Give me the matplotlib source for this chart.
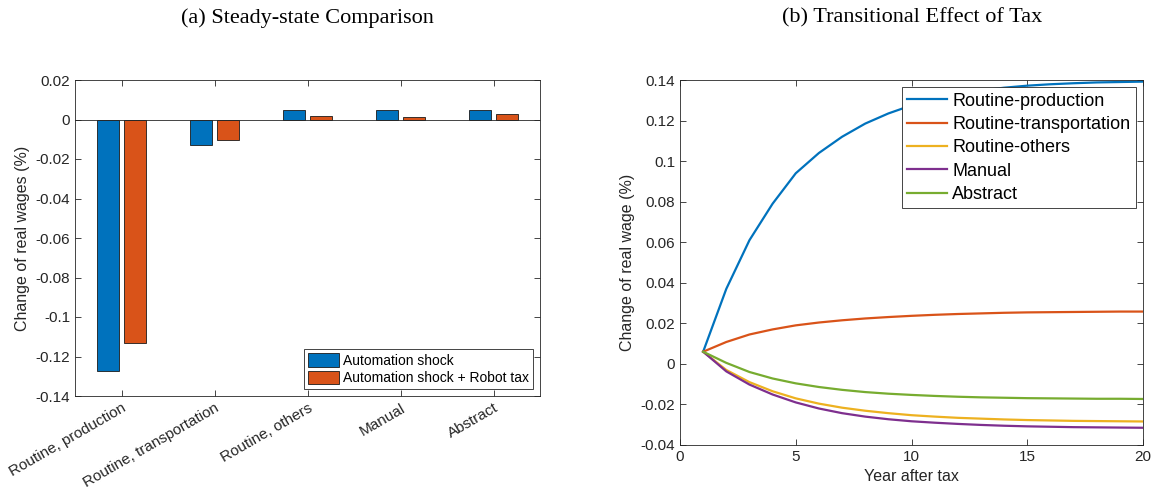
import numpy as np
import matplotlib.pyplot as plt

# steady-state comparison
categories = ['Routine, production', 'Routine, transportation', 'Routine, others', 'Manual', 'Abstract']
shock = [-0.1272, -0.0128, 0.0050, 0.0050, 0.0050]
shock_tax = [-0.1130, -0.0102, 0.0020, 0.0015, 0.0030]

# transitional effect
years = list(range(1, 21))
routine_prod = [0.006, 0.037, 0.061, 0.079, 0.094, 0.104, 0.112, 0.1185, 0.1235, 0.1275,
                0.1305, 0.133, 0.1348, 0.1362, 0.1372, 0.1379, 0.1384, 0.1388, 0.1390, 0.1392]
routine_trans = [0.006, 0.0108, 0.0145, 0.0170, 0.0190, 0.0204, 0.0215, 0.0224, 0.0231, 0.0237,
                 0.0242, 0.0246, 0.0249, 0.0252, 0.0254, 0.0255, 0.0256, 0.0257, 0.0258, 0.0258]
routine_oth = [0.006, -0.0030, -0.0090, -0.0135, -0.0170, -0.0196, -0.0216, -0.0231, -0.0243, -0.0253,
               -0.0260, -0.0266, -0.0270, -0.0274, -0.0277, -0.0279, -0.0281, -0.0282, -0.0283, -0.0284]
manual = [0.006, -0.0037, -0.0102, -0.0151, -0.0190, -0.0220, -0.0243, -0.0260, -0.0273, -0.0283,
          -0.0290, -0.0296, -0.0301, -0.0305, -0.0308, -0.0310, -0.0312, -0.0313, -0.0314, -0.0315]
abstract = [0.006, 0.0005, -0.0040, -0.0072, -0.0096, -0.0114, -0.0128, -0.0139, -0.0147, -0.0153,
            -0.0158, -0.0162, -0.0165, -0.0167, -0.0169, -0.0170, -0.0171, -0.0172, -0.0172, -0.0173]

blue = '#0072BD'
orange = '#D95319'
yellow = '#EDB120'
purple = '#7E2F8E'
green = '#77AC30'
gray = '#262626'

plt.rcParams['font.family'] = 'Liberation Sans'

fig = plt.figure(figsize=(11.56, 4.95), dpi=100)
ax1 = fig.add_axes([75 / 1156, 1 - 396 / 495, 465 / 1156, 316 / 495])
ax2 = fig.add_axes([680 / 1156, 1 - 445 / 495, 463 / 1156, 365 / 495])

for ax in (ax1, ax2):
    for s in ax.spines.values():
        s.set_color('#262626')
        s.set_linewidth(0.6)
    ax.tick_params(direction='in', top=True, right=True, colors=gray, labelsize=11, length=4, width=0.6)

# (a) bars
x = np.arange(len(categories))
w = 0.23
ax1.bar(x - 0.145, shock, w, color=blue, edgecolor='#1a1a1a', linewidth=0.6, label='Automation shock')
ax1.bar(x + 0.145, shock_tax, w, color=orange, edgecolor='#1a1a1a', linewidth=0.6,
        label='Automation shock + Robot tax')
ax1.axhline(0, color='#262626', linewidth=0.6)
ax1.set_xlim(-0.5, len(categories) - 0.5)
ax1.set_ylim(-0.14, 0.02)
ax1.set_yticks(np.arange(-0.14, 0.021, 0.02))
ax1.set_yticklabels(['-0.14', '-0.12', '-0.1', '-0.08', '-0.06', '-0.04', '-0.02', '0', '0.02'])
ax1.set_xticks(x)
ax1.set_xticklabels(categories, rotation=30, ha='right', rotation_mode='anchor')
ax1.set_ylabel('Change of real wages (%)', fontsize=11.5, color=gray)
leg1 = ax1.legend(loc='lower right', fontsize=10, fancybox=False, framealpha=1,
                  handlelength=2.2, handleheight=1.1, borderpad=0.3, labelspacing=0.2,
                  handletextpad=0.3)
leg1.get_frame().set_edgecolor('#262626')
leg1.get_frame().set_linewidth(0.6)
fig.text(307 / 1156, 1 - 18 / 495, '(a) Steady-state Comparison', ha='center', va='center',
         fontsize=16, family='Liberation Serif')

# (b) lines
ax2.plot(years, routine_prod, color=blue, lw=1.6, label='Routine-production')
ax2.plot(years, routine_trans, color=orange, lw=1.6, label='Routine-transportation')
ax2.plot(years, routine_oth, color=yellow, lw=1.6, label='Routine-others')
ax2.plot(years, manual, color=purple, lw=1.6, label='Manual')
ax2.plot(years, abstract, color=green, lw=1.6, label='Abstract')
ax2.set_xlim(0, 20)
ax2.set_ylim(-0.04, 0.14)
ax2.set_xticks([0, 5, 10, 15, 20])
ax2.set_yticks(np.arange(-0.04, 0.141, 0.02))
ax2.set_yticklabels(['-0.04', '-0.02', '0', '0.02', '0.04', '0.06', '0.08', '0.1', '0.12', '0.14'])
ax2.set_xlabel('Year after tax', fontsize=11.5, color=gray)
ax2.set_ylabel('Change of real wage (%)', fontsize=11.5, color=gray)
leg2 = ax2.legend(loc='upper right', fontsize=13, fancybox=False, framealpha=1,
                  handlelength=2.2, borderpad=0.3, labelspacing=0.35, handletextpad=0.3,
                  borderaxespad=0.4)
leg2.get_frame().set_edgecolor('#262626')
leg2.get_frame().set_linewidth(0.6)
fig.text(912 / 1156, 1 - 18 / 495, '(b) Transitional Effect of Tax', ha='center', va='center',
         fontsize=16, family='Liberation Serif')

fig.savefig('out.png', dpi=100)
